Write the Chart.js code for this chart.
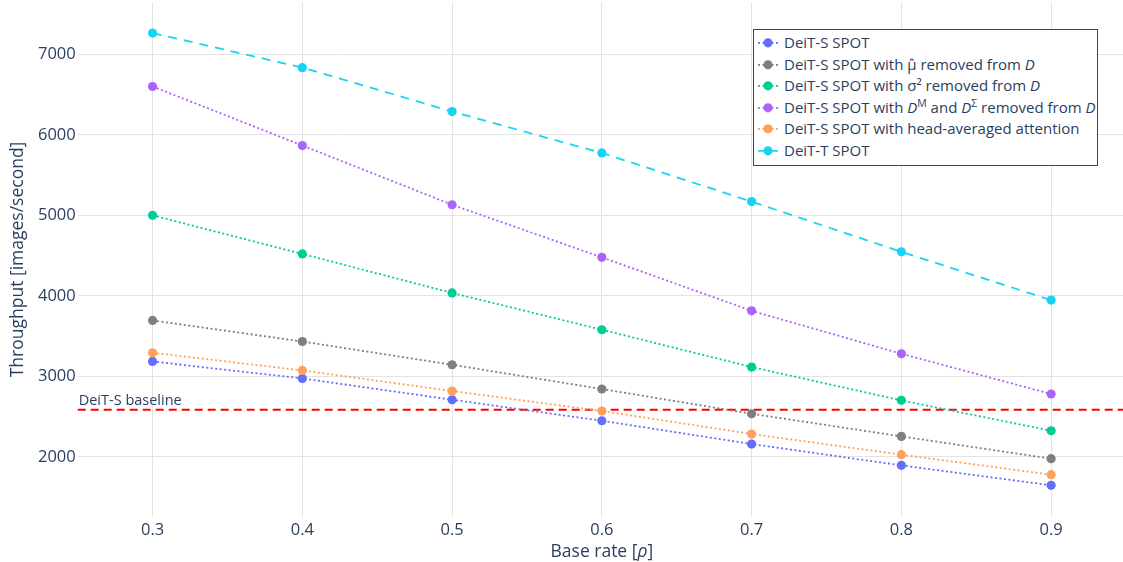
<!DOCTYPE html>
<html>
<head>
<meta charset="utf-8">
<script src="https://cdn.jsdelivr.net/npm/chart.js@4.4.1/dist/chart.umd.min.js"></script>
<style>
html,body{margin:0;padding:0;overflow:hidden;background:#fff;width:1123px;height:562px}
#wrap{position:absolute;left:0;top:0;width:1123px;height:562px}
#c{display:block;width:1123px;height:562px}
#legend{position:absolute;left:753px;top:29px;width:343px;height:133px;padding-top:2px;border:1px solid #444;background:#fff;font-family:'Open Sans',sans-serif;font-size:15px;color:#2a3f5f}
.row{height:21.6px;line-height:21.6px;white-space:nowrap;position:relative}
.row svg{position:absolute;left:3px;top:0}
.row span{position:absolute;left:30px;top:0}
.row sup{font-size:10.5px;line-height:0;vertical-align:6px}
</style>
</head>
<body>
<div id="wrap"><canvas id="c" width="1123" height="562"></canvas></div>
<div id="legend"></div>
<script>
// ---- data ----
const rates = [0.3, 0.4, 0.5, 0.6, 0.7, 0.8, 0.9];
const xTickValues = [0.3, 0.4, 0.5, 0.6, 0.7, 0.8, 0.9];
const yTickValues = [2000, 3000, 4000, 5000, 6000, 7000];
const deitS      = [3186, 2975, 2711, 2450, 2161, 1896, 1648];
const noMu       = [3695, 3434, 3145, 2844, 2537, 2256, 1979];
const noSigma    = [5000, 4521, 4037, 3580, 3117, 2703, 2326];
const noDMDS     = [6600, 5867, 5132, 4479, 3815, 3282, 2782];
const headAvg    = [3294, 3075, 2819, 2571, 2285, 2029, 1780];
const deitT      = [7264, 6834, 6288, 5775, 5171, 4547, 3948];
const baselineValue = 2587;
const baselineLabel = 'DeiT-S baseline';
const seriesNames = [
  'DeiT-S SPOT',
  'DeiT-S SPOT with μ̂ removed from <i>D</i>',
  'DeiT-S SPOT with σ² removed from <i>D</i>',
  'DeiT-S SPOT with <i>D</i><sup>M</sup> and <i>D</i><sup>Σ</sup> removed from <i>D</i>',
  'DeiT-S SPOT with head-averaged attention',
  'DeiT-T SPOT'
];
const seriesValues = [deitS, noMu, noSigma, noDMDS, headAvg, deitT];

// ---- styles ----
const FONT = "'Open Sans', sans-serif";
const TEXT = '#2a3f5f';
const colors = ['#636efa', '#7f7f7f', '#00cc96', '#ab63fa', '#ffa15a', '#19d3f3'];
const dashes = [[2,2.5],[2,2.5],[2,2.5],[2,2.5],[2,2.5],[9,7]];

const datasets = seriesValues.map((vals, i) => ({
  label: seriesNames[i].replace(/<[^>]+>/g, ''),
  data: rates.map((r, j) => ({x: r, y: vals[j]})),
  borderColor: colors[i],
  backgroundColor: colors[i],
  pointBackgroundColor: colors[i],
  pointBorderWidth: 0,
  pointRadius: 4.6,
  pointHoverRadius: 4.6,
  borderWidth: 1.8,
  borderDash: dashes[i],
  tension: 0,
  fill: false,
  order: -i
}));

const overlay = {
  id: 'overlay',
  beforeDatasetsDraw(chart) {
    const {ctx, chartArea} = chart;
    const y = chart.scales.y.getPixelForValue(baselineValue);
    ctx.save();
    ctx.strokeStyle = '#ff0000';
    ctx.lineWidth = 2;
    ctx.setLineDash([8, 5]);
    ctx.beginPath();
    ctx.moveTo(chartArea.left, y);
    ctx.lineTo(chartArea.right, y);
    ctx.stroke();
    ctx.restore();
  },
  afterDraw(chart) {
    const {ctx, chartArea} = chart;
    const y = chart.scales.y.getPixelForValue(baselineValue);
    ctx.save();
    ctx.fillStyle = TEXT;
    ctx.font = "14.5px " + FONT;
    ctx.textBaseline = 'alphabetic';
    ctx.textAlign = 'left';
    ctx.fillText(baselineLabel, chartArea.left + 1, y - 5);
    // x-axis title with italic rho, centred on the full plot width
    const parts = [['Base rate [', 'normal'], ['ρ', 'italic'], [']', 'normal']];
    let total = 0;
    const widths = parts.map(p => { ctx.font = p[1] + ' 17.5px ' + FONT; const w = ctx.measureText(p[0]).width; total += w; return w; });
    let x = chart.scales.x.getPixelForValue(0.6) - total / 2;
    parts.forEach((p, i) => { ctx.font = p[1] + ' 17.5px ' + FONT; ctx.fillText(p[0], x, 557); x += widths[i]; });
    ctx.restore();
  }
};

function noPad(s) { s.paddingTop = 0; s.paddingBottom = 0; s.paddingLeft = 0; s.paddingRight = 0; }

new Chart(document.getElementById('c'), {
  type: 'line',
  data: {datasets},
  options: {
    responsive: false,
    animation: false,
    events: [],
    layout: {autoPadding: false, padding: {top: 2, right: 0, left: 0, bottom: 0}},
    plugins: {legend: {display: false}, tooltip: {enabled: false}},
    scales: {
      x: {
        type: 'linear', min: 0.25, max: 0.948,
        afterBuildTicks: s => { s.ticks = xTickValues.map(v => ({value: v})); },
        afterFit: s => { s.height = 45; noPad(s); },
        ticks: {callback: v => Number(v).toFixed(1), font: {family: FONT, size: 16.5}, color: TEXT, padding: 3, maxRotation: 0, autoSkip: false},
        grid: {color: '#e3e3e3', drawTicks: false, lineWidth: 1},
        border: {display: false}
      },
      y: {
        type: 'linear', min: 1255, max: 7649,
        afterBuildTicks: s => { s.ticks = yTickValues.map(v => ({value: v})); },
        afterFit: s => { s.width = 77.7; noPad(s); },
        ticks: {callback: v => String(v), font: {family: FONT, size: 16.5}, color: TEXT, padding: 2, autoSkip: false},
        grid: {color: '#e3e3e3', drawTicks: false, lineWidth: 1},
        border: {display: false},
        title: {display: true, text: 'Throughput [images/second]', font: {family: FONT, size: 17.5}, color: TEXT, padding: {top: 8, bottom: 0}}
      }
    }
  },
  plugins: [overlay]
});

// ---- legend (HTML text) ----
const legend = document.getElementById('legend');
seriesNames.forEach((name, i) => {
  const row = document.createElement('div');
  row.className = 'row';
  const da = dashes[i].join(',');
  row.innerHTML = '<svg width="24" height="21.6"><line x1="1" y1="10.8" x2="21" y2="10.8" stroke="' + colors[i] + '" stroke-width="1.8" stroke-dasharray="' + (i === 5 ? '9,3' : da) + '"/><circle cx="11" cy="10.8" r="4.6" fill="' + colors[i] + '"/></svg><span>' + name + '</span>';
  legend.appendChild(row);
});
</script>
</body>
</html>
